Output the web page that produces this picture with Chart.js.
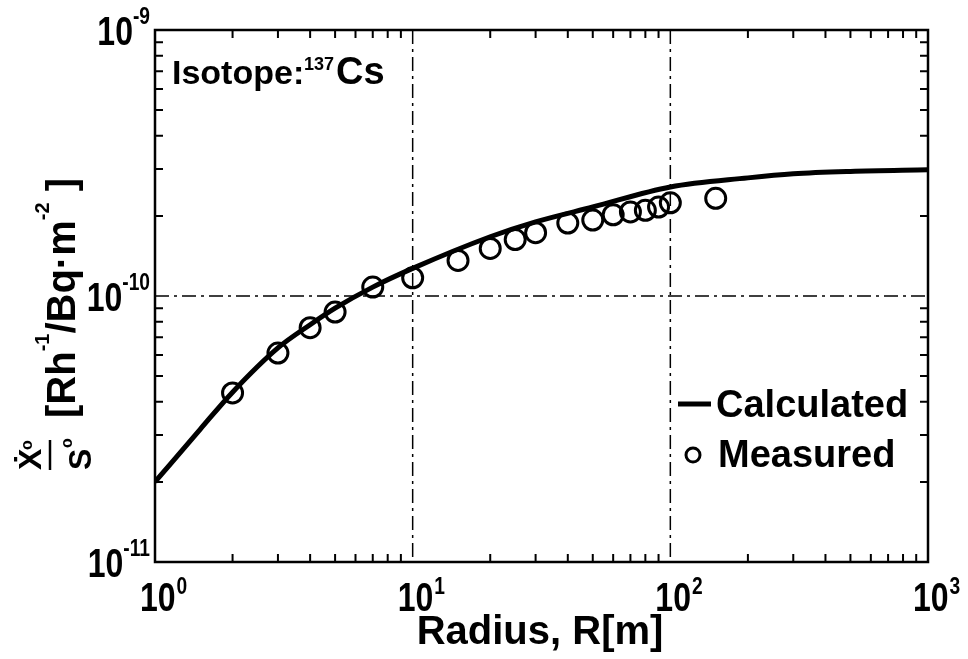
<!DOCTYPE html>
<html>
<head>
<meta charset="utf-8">
<script src="https://cdn.jsdelivr.net/npm/chart.js@4"></script>
<style>
  body { margin: 0; background: #fff; }
  canvas { display: block; }
</style>
</head>
<body>
<canvas id="doseChart" width="968" height="659"></canvas>
<script>
// calculated curve (radius in m, dose rate ratio)
const calcRadius = [1, 1.5, 2, 3, 4, 5, 7, 10, 20, 30, 50, 100, 200, 300, 500, 1000];
const calcValue = [2.0e-11, 3.16e-11, 4.35e-11, 6.38e-11, 7.8e-11, 9.0e-11, 1.08e-10, 1.27e-10,
    1.67e-10, 1.90e-10, 2.16e-10, 2.57e-10, 2.78e-10, 2.88e-10, 2.94e-10, 2.98e-10];

// measured points
const measRadius = [2, 3, 4, 5, 7, 10, 15, 20, 25, 30, 40, 50, 60, 70, 80, 90, 100, 150];
const measValue = [4.32e-11, 6.1e-11, 7.6e-11, 8.7e-11, 1.08e-10, 1.17e-10, 1.36e-10, 1.51e-10,
    1.63e-10, 1.73e-10, 1.88e-10, 1.93e-10, 2.02e-10, 2.07e-10, 2.10e-10, 2.16e-10, 2.24e-10, 2.33e-10];

const xDecades = [1, 10, 100, 1000];
const xExp = ['0', '1', '2', '3'];
const yDecades = [1e-11, 1e-10, 1e-9];
const yExp = ['-11', '-10', '-9'];

const FONT = '"Liberation Sans", Arial, sans-serif';
const SQUEEZE = 0.8;

function minorTicks(lo, hi) {
    const out = [];
    for (let d = lo; d < hi; d *= 10) {
        for (let m = 2; m <= 9; m++) out.push(m * d);
    }
    return out;
}

// draws horizontally squeezed text, returns its drawn width
function narrowText(ctx, text, x, y, size, align) {
    ctx.font = 'bold ' + size + 'px ' + FONT;
    const w = ctx.measureText(text).width * SQUEEZE;
    const left = align === 'right' ? x - w : x;
    ctx.save();
    ctx.translate(left, y);
    ctx.scale(SQUEEZE, 1);
    ctx.textAlign = 'left';
    ctx.fillText(text, 0, 0);
    ctx.restore();
    return w;
}

const framePlugin = {
    id: 'frame',
    afterDatasetsDraw(chart) {
        const ctx = chart.ctx;
        const a = chart.chartArea;
        const xs = chart.scales.x, ys = chart.scales.y;
        ctx.save();
        ctx.strokeStyle = '#000';

        // dash-dot decade grid
        ctx.lineWidth = 1.5;
        ctx.setLineDash([14, 5, 3, 5]);
        [10, 100].forEach(v => {
            const px = xs.getPixelForValue(v);
            ctx.beginPath(); ctx.moveTo(px, a.top); ctx.lineTo(px, a.bottom); ctx.stroke();
        });
        [1e-10].forEach(v => {
            const py = ys.getPixelForValue(v);
            ctx.beginPath(); ctx.moveTo(a.left, py); ctx.lineTo(a.right, py); ctx.stroke();
        });
        ctx.setLineDash([]);

        // box
        ctx.lineWidth = 2.5;
        ctx.strokeRect(a.left, a.top, a.right - a.left, a.bottom - a.top);

        // inward minor ticks
        ctx.lineWidth = 2;
        minorTicks(1, 1000).forEach(v => {
            const px = xs.getPixelForValue(v);
            ctx.beginPath();
            ctx.moveTo(px, a.bottom); ctx.lineTo(px, a.bottom - 8);
            ctx.moveTo(px, a.top); ctx.lineTo(px, a.top + 8);
            ctx.stroke();
        });
        minorTicks(1e-11, 1e-9).forEach(v => {
            const py = ys.getPixelForValue(v);
            ctx.beginPath();
            ctx.moveTo(a.left, py); ctx.lineTo(a.left + 8, py);
            ctx.moveTo(a.right, py); ctx.lineTo(a.right - 8, py);
            ctx.stroke();
        });

        // tick labels with superscripts
        ctx.fillStyle = '#000';
        ctx.textBaseline = 'alphabetic';
        xDecades.forEach((v, i) => {
            const px = xs.getPixelForValue(v);
            const w = narrowText(ctx, '10', px - 15, 611, 40, 'left');
            narrowText(ctx, xExp[i], px - 15 + w + 1, 594, 24, 'left');
        });
        yDecades.forEach((v, i) => {
            const py = ys.getPixelForValue(v);
            const ew = narrowText(ctx, yExp[i], 150, py - 6, 24, 'right');
            narrowText(ctx, '10', 150 - ew, py + 15, 40, 'right');
        });

        // x title
        ctx.textAlign = 'center';
        ctx.font = 'bold 40px ' + FONT;
        ctx.fillText('Radius, R[m]', 540, 644);

        // y title (rotated)
        ctx.save();
        ctx.translate(58, 470);
        ctx.rotate(-Math.PI / 2);
        ctx.textAlign = 'left';
        ctx.font = 'bold 32px ' + FONT;
        ctx.fillText('Ẋ', 0, -17);
        ctx.font = 'bold 16px ' + FONT;
        ctx.fillText('o', 20, -26);
        ctx.lineWidth = 2.5;
        ctx.beginPath(); ctx.moveTo(0, -8); ctx.lineTo(30, -8); ctx.stroke();
        ctx.font = 'bold 32px ' + FONT;
        ctx.fillText('S', 0, 33);
        ctx.font = 'bold 16px ' + FONT;
        ctx.fillText('o', 22, 14);
        let u = 52;
        const seg = (t, size, v) => {
            ctx.font = 'bold ' + size + 'px ' + FONT;
            ctx.fillText(t, u, v);
            u += ctx.measureText(t).width;
        };
        seg('[Rh', 40, 17);
        seg('-1', 20, -9);
        seg('/Bq·m', 40, 17);
        seg('-2', 20, -9);
        seg(' ]', 40, 17);
        ctx.restore();

        // isotope label
        ctx.textAlign = 'left';
        ctx.font = 'bold 34px ' + FONT;
        ctx.fillText('Isotope:', 172, 84);
        ctx.font = 'bold 18px ' + FONT;
        ctx.fillText('137', 304, 70);
        ctx.font = 'bold 38px ' + FONT;
        ctx.fillText('Cs', 336, 84);

        // legend
        ctx.lineWidth = 5;
        ctx.beginPath(); ctx.moveTo(678, 404); ctx.lineTo(711, 404); ctx.stroke();
        ctx.font = 'bold 38px ' + FONT;
        ctx.fillText('Calculated', 716, 417);
        ctx.lineWidth = 3;
        ctx.beginPath(); ctx.arc(693, 455, 7, 0, Math.PI * 2); ctx.stroke();
        ctx.fillText('Measured', 718, 467);

        ctx.restore();
    }
};

const ctx = document.getElementById('doseChart').getContext('2d');

new Chart(ctx, {
    type: 'scatter',
    data: {
        datasets: [
            {
                label: 'Calculated',
                data: calcRadius.map((r, i) => ({ x: r, y: calcValue[i] })),
                showLine: true,
                borderColor: '#000',
                borderWidth: 5,
                pointRadius: 0,
                cubicInterpolationMode: 'monotone'
            },
            {
                label: 'Measured',
                data: measRadius.map((r, i) => ({ x: r, y: measValue[i] })),
                borderColor: '#000',
                backgroundColor: 'rgba(0,0,0,0)',
                borderWidth: 3,
                pointRadius: 10,
                pointStyle: 'circle'
            }
        ]
    },
    options: {
        responsive: false,
        animation: false,
        devicePixelRatio: 1,
        layout: { padding: { top: 30, right: 40, left: 0, bottom: 0 } },
        plugins: {
            legend: { display: false },
            tooltip: { enabled: false }
        },
        scales: {
            x: {
                type: 'logarithmic',
                min: 1,
                max: 1000,
                ticks: { display: false },
                grid: { display: false },
                border: { display: false },
                afterFit(scale) { scale.height = 97; }
            },
            y: {
                type: 'logarithmic',
                min: 1e-11,
                max: 1e-9,
                ticks: { display: false },
                grid: { display: false },
                border: { display: false },
                afterFit(scale) { scale.width = 155; }
            }
        }
    },
    plugins: [framePlugin]
});
</script>
</body>
</html>
